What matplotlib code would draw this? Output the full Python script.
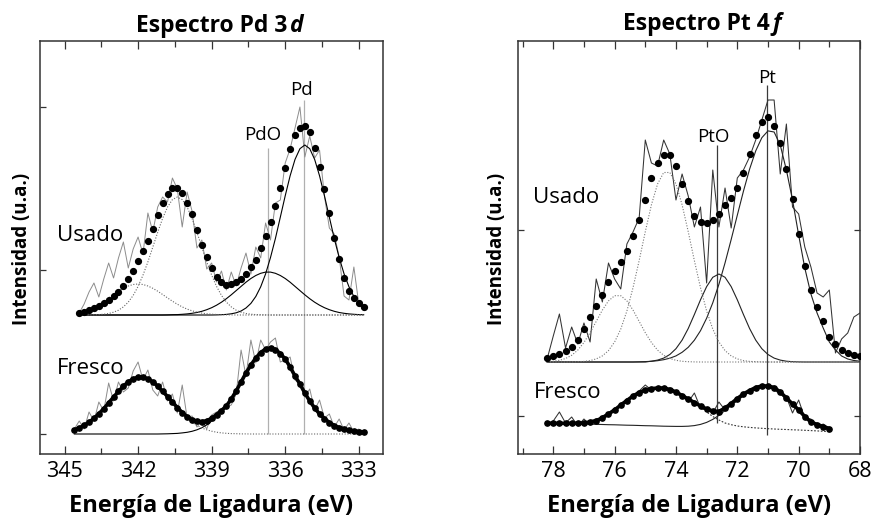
import numpy as np
import matplotlib
matplotlib.use("Agg")
import matplotlib.pyplot as plt
from matplotlib.ticker import MultipleLocator

plt.rcParams['font.family'] = ['Open Sans', 'DejaVu Sans']

# ---------------- data: Pd 3d (left panel) ----------------
e_pd_usado = np.round(np.arange(344.4, 332.79, -0.2), 1)
pd_usado_fit = [141, 142.5, 144, 146, 148, 151, 154, 158, 162, 168, 175, 183, 193, 203, 213, 225, 239, 251,
                260, 266, 266, 261, 251, 240, 224, 209, 197, 186, 177, 172, 169.5, 170, 172, 175, 180, 187,
                194, 206, 218, 232, 248, 266, 286, 305, 319, 326, 328, 322, 306, 287, 265, 241, 216, 195,
                176, 163, 156, 151, 147]
pd_usado_raw = [141, 150, 162, 171, 157, 175, 191, 176, 196, 212, 186, 205, 217, 200, 241, 222, 247, 257,
                252, 276, 265, 227, 262, 243, 206, 214, 185, 191, 172, 183, 164, 182, 168, 186, 201, 180,
                207, 196, 231, 214, 251, 254, 291, 305, 326, 347, 297, 318, 296, 304, 258, 226, 220, 197,
                158, 154, 187, 150, 144]
pd_usado_pd52 = [139.0] * 28 + [139.1, 139.3, 139.6, 140.2, 141.2, 143.0, 146.0, 150.6, 157.5, 167.2, 180.1,
                                196.5, 215.5, 236.8, 258.2, 278.2, 294.6, 305.3, 309.0, 305.3, 294.6, 278.2,
                                258.2, 236.8, 215.5, 196.5, 180.1, 167.2, 157.5, 150.6, 146.0]
pd_usado_pdo52 = [139.0] * 18 + [139.1, 139.3, 139.4, 139.7, 140.1, 140.7, 141.5, 142.7, 144.3, 146.3, 148.8,
                                 151.8, 155.3, 159.2, 163.4, 167.6, 171.8, 175.5, 178.5, 180.7, 181.9, 181.9,
                                 180.7, 178.5, 175.5, 171.8, 167.6, 163.4, 159.2, 155.3, 151.8, 148.8, 146.3,
                                 144.3, 142.7, 141.5, 140.7, 140.1, 139.7, 139.4, 139.3]
pd_usado_pd32 = [139.0, 139.0, 139.1, 139.2, 139.4, 139.8, 140.5, 141.8, 143.8, 147.1, 151.9, 158.6, 167.6,
                 178.9, 192.1, 206.9, 221.7, 235.6, 247.0, 254.4, 257.0, 254.4, 247.0, 235.6, 221.7, 206.9,
                 192.1, 178.9, 167.6, 158.6, 151.9, 147.1, 143.8, 141.8, 140.5, 139.8, 139.4, 139.2,
                 139.1] + [139.0] * 20
pd_usado_pdo32 = [141.9, 143.2, 144.9, 147.1, 149.8, 152.8, 156.1, 159.5, 162.8, 165.7, 168.0, 169.5, 170.0,
                  169.5, 168.0, 165.7, 162.8, 159.5, 156.1, 152.8, 149.8, 147.1, 144.9, 143.2, 141.9, 140.9,
                  140.2, 139.8, 139.5, 139.3, 139.2, 139.1] + [139.0] * 27

e_pd_fresco = np.round(np.arange(344.6, 332.79, -0.2), 1)
pd_fresco_fit = [24.2, 26.0, 28.6, 31.7, 35.6, 40.2, 45.4, 51.1, 56.9, 62.6,
                 67.8, 72.1, 75.2, 76.8, 76.8, 75.2, 72.1, 67.9, 62.7, 57.5,
                 52.0, 46.5, 41.5, 37.3, 34.4, 32.8, 32.3, 33.3, 35.7, 39.4,
                 43.5, 48.0, 55.0, 63.0, 72.0, 81.0, 89.0, 96.0, 101.5, 105.0,
                 106.0, 104.5, 100.5, 95.0, 87.0, 78.0, 70.0, 61.0, 53.0, 46.0,
                 40.0, 35.5, 31.5, 28.5, 26.5, 25.0, 24.0, 23.0, 22.5, 22.0]
pd_fresco_raw = [25, 33, 25, 42, 33, 52, 43, 71, 53, 72,
                 62, 66, 83, 92, 74, 84, 64, 58, 72, 53,
                 60, 41, 69, 36, 38, 27, 33, 25, 39, 42,
                 44, 47, 49, 60, 104, 78, 114, 91, 114, 104,
                 112, 116, 92, 94, 97, 74, 70, 57, 65, 44,
                 54, 36, 40, 27, 35, 24, 31, 22, 25, 21]
pd_fresco_pdo52 = [20.0] * 18 + [20.1, 20.2, 20.4, 20.6, 21.1, 21.7, 22.7, 24.2, 26.3, 29.1,
                                 32.9, 37.6, 42.4, 47.3, 54.6, 62.7, 71.9, 81.0, 89.0, 96.0,
                                 101.5, 105.0, 106.0, 104.5, 100.5, 95.0, 87.0, 78.0, 70.0, 61.0,
                                 53.0, 46.0, 40.0, 35.5, 31.5, 28.5, 26.5, 25.0, 24.0, 23.0, 22.5, 22.0]
pd_fresco_pdo32 = [24.2, 26.0, 28.6, 31.7, 35.6, 40.2, 45.4, 51.1, 56.9, 62.6, 67.8, 72.1, 75.2, 76.8,
                   76.8, 75.2, 72.1, 67.8, 62.6, 56.9, 51.1, 45.4, 40.2, 35.6, 31.7, 28.6, 26.0, 24.2,
                   22.8, 21.8, 21.1, 20.7, 20.4, 20.3, 20.1, 20.1] + [20.0] * 24

pd_lines_e = [336.7, 335.25]
pd_lines_top = [306, 354]
pd_lines_bottom = [20, 20]
pd_labels = ["PdO", "Pd"]
pd_labels_e = [336.9, 335.35]
pd_labels_y = [319, 364]

# ---------------- data: Pt 4f (right panel) ----------------
e_pt_usado = np.round(np.arange(78.2, 67.99, -0.2), 1)
pt_usado_fit = [96, 98, 100.5, 103, 107, 114, 125, 137, 148, 159,
                172, 183, 192, 203, 218, 234, 254, 276, 291, 299,
                299, 288, 270, 253, 238, 232, 231, 234, 240, 249,
                256, 266, 281, 300, 319, 332, 337, 328, 311, 285,
                255, 220, 188, 164, 147, 133, 117, 110, 104, 101,
                99, 98]
pt_usado_raw = [95, 118, 140, 106, 127, 110, 131, 112, 175, 152,
                191, 175, 165, 210, 222, 236, 314, 291, 288, 314,
                300, 254, 280, 258, 227, 247, 171, 284, 227, 266,
                226, 276, 284, 297, 314, 334, 354, 354, 280, 330,
                247, 240, 207, 187, 161, 157, 164, 101, 115, 121,
                137, 141]
pt_usado_pt72 = [92.0] * 15 + [92.2, 92.4, 92.7, 93.3, 94.3, 95.8, 98.1, 101.7, 106.7, 113.8, 123.3, 135.8,
                               151.2, 169.7, 191.1, 214.5, 238.8, 262.8, 284.8, 303.1, 316.3, 323.1, 322.0,
                               309.0, 284.0, 254.0, 219.0, 186.0, 160.0, 141.0, 126.0, 112.0, 104.0, 98.0,
                               95.0, 93.5, 92.8]
pt_usado_pto72 = [92.0] * 17 + [92.8, 93.9, 95.9, 99.5, 105.3, 113.9, 125.5, 139.5, 154.2, 167.4, 176.7,
                                180.0, 176.7, 167.4, 154.2, 139.5, 125.5, 113.9, 105.3, 99.5, 95.9, 93.9,
                                92.8, 92.3, 92.1] + [92.0] * 10
pt_usado_pt52 = [92.0, 92.0, 92.0, 92.0, 92.1, 92.3, 92.6, 93.4, 95.1, 98.1, 103.4, 112.0, 124.9, 143.0,
                 166.3, 193.4, 222.3, 249.2, 270.0, 281.5, 281.5, 270.0, 249.2, 222.3, 193.4, 166.3,
                 143.0, 124.9, 112.0, 103.4, 98.1, 95.1, 93.4, 92.6, 92.3, 92.1] + [92.0] * 16
pt_usado_pto52 = [92.3, 92.7, 93.7, 95.5, 98.7, 103.9, 111.5, 121.3, 132.6, 143.9, 153.1, 158.3, 158.3,
                  153.1, 143.9, 132.6, 121.3, 111.5, 103.9, 98.7, 95.5, 93.7, 92.7, 92.3, 92.1] + [92.0] * 27

e_pt_fresco = np.round(np.arange(78.2, 68.99, -0.2), 1)
pt_fresco_fit = [30.7, 30.7, 30.7, 30.7, 30.7, 30.8, 31.0, 32.0, 33.5, 36.0,
                 40.0, 44.0, 49.0, 53.5, 58.0, 61.5, 64.0, 65.3, 66.0, 66.0,
                 64.5, 62.0, 58.5, 55.0, 51.5, 48.0, 45.0, 43.0, 42.5, 46.0,
                 50.5, 55.5, 60.0, 63.5, 66.5, 68.0, 68.0, 66.5, 62.0, 56.0,
                 50.0, 44.0, 37.5, 32.0, 29.5, 27.5, 25.5]
pt_fresco_raw = [30, 33, 42, 31, 37, 28, 35, 29, 33, 38,
                 41, 46, 47, 55, 57, 63, 69, 64, 67, 64,
                 66, 60, 58, 52, 61, 46, 44, 41, 52, 44,
                 51, 54, 61, 63, 64, 67, 69, 64, 60, 57,
                 41, 54, 36, 35, 27, 30, 25]
pt_fresco_a = [31.0, 30.8, 30.7, 30.5, 30.3, 30.2, 30.0, 29.8, 29.7, 29.5,
               29.3, 29.2, 29.0, 28.8, 28.7, 28.5, 28.3, 28.2, 28.0, 27.8,
               27.7, 27.6, 27.6, 27.8, 28.4, 29.6, 31.6, 34.6, 38.6, 43.5,
               48.5, 53.5, 58.0, 62.0, 65.0, 66.5, 66.5, 65.0, 61.0, 55.5,
               49.5, 43.5, 37.0, 31.5, 28.0, 26.0, 24.5]
pt_fresco_b = [30.5, 30.5, 30.5, 30.5, 30.5, 30.6, 30.8, 31.8, 33.3, 35.8,
               39.8, 43.8, 48.8, 53.3, 57.8, 61.3, 63.8, 65.1, 65.8, 65.8,
               64.3, 61.8, 58.3, 54.8, 51.0, 47.0, 42.0, 37.5, 34.0, 31.0,
               29.3, 28.0, 27.2, 26.6, 26.1, 25.7, 25.3, 25.0, 24.7, 24.5,
               24.2, 24.0, 23.7, 23.4, 23.1, 22.7, 22.3]

pt_lines_e = [72.67, 71.04]
pt_lines_top = [309, 369]
pt_lines_bottom = [31, 19]
pt_labels = ["PtO", "Pt"]
pt_labels_e = [72.78, 71.04]
pt_labels_y = [317, 376]

# ---------------- figure ----------------
W, H = 873, 519
fig = plt.figure(figsize=(W / 100, H / 100), dpi=100)
YMAX = 413.3
axL = fig.add_axes([40 / W, 65 / H, 343.3 / W, YMAX / H])
axR = fig.add_axes([518 / W, 65 / H, 342 / W, YMAX / H])

FS_TICK = 15.5
FS_TITLE = 16.5
FS_XLAB = 17
FS_YLAB = 13.5


def style(ax, xlim, major, minor, yticks, left, right):
    ax.set_xlim(*xlim)
    ax.set_ylim(0, YMAX)
    ax.xaxis.set_major_locator(MultipleLocator(major))
    ax.xaxis.set_minor_locator(MultipleLocator(minor))
    ax.tick_params(axis='x', which='both', direction='in', top=True, bottom=True,
                   labelsize=FS_TICK, pad=5, width=0.9, color='#333333')
    ax.tick_params(axis='x', which='major', length=6)
    ax.tick_params(axis='x', which='minor', length=4)
    ax.set_yticks(yticks)
    ax.set_yticklabels([])
    ax.tick_params(axis='y', direction='in', length=4, left=left, right=right,
                   width=0.9, color='#333333')
    for s in ax.spines.values():
        s.set_linewidth(1.1)
        s.set_color('#333333')


style(axL, (346, 332), 3, 1.5, [347, 184, 20], True, False)
style(axR, (79.15, 68), 2, 1, [224, 38], True, True)

# left panel
axL.vlines(pd_lines_e, pd_lines_bottom, pd_lines_top, color='#b0b0b0', lw=0.9, zorder=1)
axL.plot(e_pd_usado, pd_usado_raw, color='#8c8c8c', lw=0.7, zorder=2)
axL.plot(e_pd_usado, pd_usado_pd52, color='black', lw=0.8, zorder=3)
axL.plot(e_pd_usado, pd_usado_pdo52, color='black', lw=0.8, zorder=3)
axL.plot(e_pd_usado, pd_usado_pd32, color='#666666', lw=0.8, ls=(0, (1, 1.5)), zorder=3)
axL.plot(e_pd_usado, pd_usado_pdo32, color='#666666', lw=0.8, ls=(0, (1, 1.5)), zorder=3)
axL.plot(e_pd_usado, pd_usado_fit, 'o', color='black', ms=4.2, zorder=4)

axL.plot(e_pd_fresco, pd_fresco_raw, color='#8c8c8c', lw=0.7, zorder=2)
axL.plot(e_pd_fresco, pd_fresco_pdo52, color='black', lw=0.8, zorder=3)
axL.plot(e_pd_fresco, pd_fresco_pdo32, color='#666666', lw=0.8, ls=(0, (1, 1.5)), zorder=3)
axL.plot(e_pd_fresco, pd_fresco_fit, '-o', color='black', lw=2.6, ms=3.8, zorder=4)

for s, xe, ye in zip(pd_labels, pd_labels_e, pd_labels_y):
    axL.text(xe, ye, s, ha='center', va='center', fontsize=13.5)
axL.text(345.3, 218, "Usado", ha='left', va='center', fontsize=16)
axL.text(345.3, 85, "Fresco", ha='left', va='center', fontsize=16)

# right panel
axR.vlines(pt_lines_e, pt_lines_bottom, pt_lines_top, color='#3a3a3a', lw=0.9, zorder=1)
axR.plot(e_pt_usado, pt_usado_raw, color='#333333', lw=0.75, zorder=2)
axR.plot(e_pt_usado, pt_usado_pt72, color='#222222', lw=0.8, zorder=3)
axR.plot(e_pt_usado, pt_usado_pto72, color='#222222', lw=0.8, zorder=3)
axR.plot(e_pt_usado, pt_usado_pt52, color='#777777', lw=0.8, ls=(0, (1, 1.5)), zorder=3)
axR.plot(e_pt_usado, pt_usado_pto52, color='#777777', lw=0.8, ls=(0, (1, 1.5)), zorder=3)
axR.plot(e_pt_usado, pt_usado_fit, 'o', color='black', ms=4.2, zorder=4, clip_on=True)

axR.plot(e_pt_fresco, pt_fresco_raw, color='#333333', lw=0.75, zorder=2)
axR.plot(e_pt_fresco, pt_fresco_a, color='#222222', lw=0.8, zorder=3)
axR.plot(e_pt_fresco, pt_fresco_b, color='#333333', lw=0.8, ls=(0, (1.5, 1.5)), zorder=3)
axR.plot(e_pt_fresco, pt_fresco_fit, '-o', color='black', lw=2.6, ms=3.8, zorder=4)

for s, xe, ye in zip(pt_labels, pt_labels_e, pt_labels_y):
    axR.text(xe, ye, s, ha='center', va='center', fontsize=13.5)
axR.text(78.65, 256, "Usado", ha='left', va='center', fontsize=16)
axR.text(78.62, 61, "Fresco", ha='left', va='center', fontsize=16)

# axis labels
for xc in (211, 689):
    fig.text(xc / W, 1 - 506 / H, "Energía de Ligadura (eV)", ha='center', va='center',
             fontsize=FS_XLAB, fontweight='bold')
for xc in (22.5, 497):
    fig.text(xc / W, 1 - 249 / H, "Intensidad (u.a.)", ha='center', va='center',
             rotation=90, fontsize=FS_YLAB, fontweight='bold')


# titles: bold part + bold italic orbital letter
def two_part_title(xc, base_y, s1, s2):
    t1 = fig.text(0, 0, s1, fontsize=FS_TITLE, fontweight='bold', va='baseline', ha='left')
    t2 = fig.text(0, 0, s2, fontsize=FS_TITLE, fontweight='bold', fontstyle='italic',
                  va='baseline', ha='left')
    fig.canvas.draw()
    r = fig.canvas.get_renderer()
    w1 = t1.get_window_extent(r).width
    w2 = t2.get_window_extent(r).width
    gap = 3
    x0 = xc - (w1 + w2 + gap) / 2
    t1.set_position((x0 / W, 1 - base_y / H))
    t2.set_position(((x0 + w1 + gap) / W, 1 - base_y / H))


two_part_title(220, 31.7, "Espectro Pd 3", "d")
two_part_title(701.7, 29.5, "Espectro Pt 4", "f")

fig.savefig("out.png", dpi=100)
